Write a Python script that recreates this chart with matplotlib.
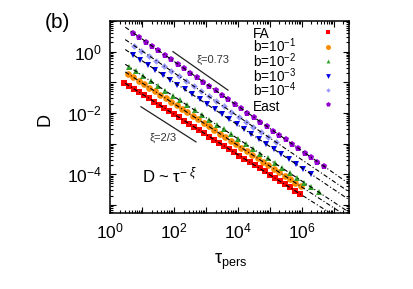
import matplotlib
matplotlib.use("Agg")
import matplotlib.pyplot as plt
import numpy as np
from matplotlib.ticker import LogLocator, FuncFormatter, NullFormatter

plt.rcParams['font.family'] = ['Liberation Sans', 'DejaVu Sans']
plt.rcParams['mathtext.fontset'] = 'custom'
plt.rcParams['mathtext.rm'] = 'Liberation Sans'
plt.rcParams['mathtext.it'] = 'Liberation Sans:italic'
plt.rcParams['mathtext.bf'] = 'Liberation Sans:bold'

# ---------------- data ----------------
labels = ['FA', r'b=10$^{-1}$', r'b=10$^{-2}$', r'b=10$^{-3}$', r'b=10$^{-4}$', 'East']

tau_fa = [2.75, 3.95, 5.68, 8.15, 11.7, 16.8, 24.1, 34.6, 49.7, 71.3, 102, 147, 211, 303, 435,
          624, 895, 1285, 1845, 2650, 3800, 5460, 7830, 11200, 16100, 23200, 33300, 47800,
          68500, 98400, 141000, 203000, 291000, 418000, 600000, 861000]
D_fa = [0.0977, 0.0769, 0.0606, 0.0478, 0.0377, 0.0297, 0.0234, 0.0184, 0.0145, 0.0114, 0.0090,
        0.00708, 0.00558, 0.00440, 0.00346, 0.00273, 0.00215, 0.00169, 0.00133, 0.00105,
        0.000828, 0.000652, 0.000514, 0.000405, 0.000319, 0.000251, 0.000198, 0.000156,
        0.000123, 9.67e-5, 7.62e-5, 6.00e-5, 4.73e-5, 3.72e-5, 2.93e-5, 2.31e-5]

tau_b1 = [3.63, 5.36, 7.91, 11.7, 17.2, 25.4, 37.5, 55.3, 81.7, 121, 178, 262, 387, 571, 843,
          1245, 1837, 2710, 4000, 5900, 8710, 12900, 19000, 28000, 41300, 61000, 89900,
          133000, 196000, 289000, 427000, 630000, 929000]
D_b1 = [0.191, 0.146, 0.112, 0.0861, 0.0661, 0.0507, 0.0389, 0.0299, 0.0229, 0.0176, 0.0135,
        0.0104, 0.00796, 0.00611, 0.00469, 0.00360, 0.00276, 0.00212, 0.00163, 0.00125,
        0.000959, 0.000736, 0.000565, 0.000434, 0.000333, 0.000255, 0.000196, 0.000150,
        0.000115, 8.85e-5, 6.79e-5, 5.21e-5, 4.01e-5]

tau_b2 = [3.89, 6.58, 11.1, 18.9, 31.9, 54.0, 91.4, 155, 262, 443, 750, 1270, 2150, 3640, 6150,
          10400, 17600, 29800, 50500, 85400, 145000, 245000, 414000, 701000, 1190000,
          2010000, 3400000]
D_b2 = [0.324, 0.225, 0.157, 0.109, 0.0757, 0.0527, 0.0367, 0.0255, 0.0177, 0.0123, 0.00857,
        0.00596, 0.00415, 0.00289, 0.00201, 0.00140, 0.000971, 0.000676, 0.000470, 0.000327,
        0.000227, 0.000158, 0.000110, 7.65e-5, 5.32e-5, 3.70e-5, 2.57e-5]

tau_b3 = [5.25, 8.95, 15.3, 26.0, 44.4, 75.6, 129, 220, 375, 639, 1090, 1860, 3170, 5400, 9200,
          15700, 26700, 45600, 77700, 133000, 226000, 385000, 657000, 1120000, 1910000]
D_b3 = [0.794, 0.547, 0.377, 0.259, 0.178, 0.123, 0.0845, 0.0582, 0.0400, 0.0275, 0.0190,
        0.0131, 0.00899, 0.00619, 0.00426, 0.00293, 0.00202, 0.00139, 0.000957, 0.000658,
        0.000453, 0.000312, 0.000215, 0.000148, 0.000102]

tau_b4 = [5.62, 9.63, 16.5, 28.3, 48.4, 82.9, 142, 243, 416, 713, 1220, 2090, 3580, 6140,
          10500, 18000, 30800, 52800, 90500, 155000]
D_b4 = [1.585, 1.081, 0.738, 0.504, 0.344, 0.234, 0.160, 0.109, 0.0746, 0.0509, 0.0347,
        0.0237, 0.0162, 0.0110, 0.00753, 0.00514, 0.00351, 0.00239, 0.00163, 0.00111]

tau_east = [5.25, 8.30, 13.1, 20.7, 32.8, 51.9, 82.0, 130, 205, 324, 513, 811, 1280, 2030,
            3210, 5070, 8020, 12700, 20000, 31700, 50100, 79300, 125000, 198000, 313000,
            495000, 783000, 1240000, 1960000, 3100000, 4900000]
D_east = [4.17, 2.985, 2.135, 1.528, 1.093, 0.783, 0.560, 0.401, 0.287, 0.205, 0.147, 0.105,
          0.0753, 0.0539, 0.0386, 0.0276, 0.0198, 0.0141, 0.0101, 0.00724, 0.00518, 0.00371,
          0.00265, 0.00190, 0.00136, 0.000973, 0.000697, 0.000499, 0.000357, 0.000255, 0.000183]

# power-law fits D = A * tau^(-xi)
fit_A = [0.19, 0.458, 0.826, 2.53, 5.40, 14.0]
fit_xi = [0.66, 0.68, 0.69, 0.70, 0.71, 0.73]
fit_range = [3.0, 3e7]

# guide lines
guide_073_tau = [93, 4900]
guide_073_D0 = 1.0
guide_23_tau = [9.3, 490]
guide_23_D0 = 0.0159

# ---------------- style ----------------
colors = ['#ff0000', '#ff8c00', '#33a02c', '#0000e6', '#9999ff', '#9400d3']
markers = ['s', 'o', '^', 'v', 'D', 'p']
msizes = [4.6, 4.8, 4.0, 4.6, 3.4, 4.8]

taus = [tau_fa, tau_b1, tau_b2, tau_b3, tau_b4, tau_east]
Ds = [D_fa, D_b1, D_b2, D_b3, D_b4, D_east]

fig = plt.figure(figsize=(4.14, 2.89), dpi=100)
ax = fig.add_axes([110/414, 1-213/289, 239/414, 192/289])

for t, d, c, m, ms in zip(taus, Ds, colors, markers, msizes):
    ax.plot(t, d, linestyle='none', marker=m, color=c, markersize=ms, markeredgewidth=0)

tt = np.logspace(np.log10(fit_range[0]), np.log10(fit_range[1]), 200)
for A, xi in zip(fit_A, fit_xi):
    ax.plot(tt, A * tt ** (-xi), color='black', lw=0.8, dashes=(4, 2, 1, 2))

g1 = np.array(guide_073_tau, dtype=float)
ax.plot(g1, guide_073_D0 * (g1 / g1[0]) ** (-0.73), color='#222222', lw=0.9)
g2 = np.array(guide_23_tau, dtype=float)
ax.plot(g2, guide_23_D0 * (g2 / g2[0]) ** (-2/3), color='#222222', lw=0.9)

ax.text(525, 0.55, 'ξ=0.73', fontsize=8, color='#333333', va='center', ha='left')
ax.text(17.8, 1.55e-3, 'ξ=2/3', fontsize=8, color='#333333', va='center', ha='left')
ax.text(10, 5.2e-5, r'D ~ τ$^{-\ \xi}$', fontsize=12, va='baseline', ha='left')

ax.set_xscale('log')
ax.set_yscale('log')
ax.set_xlim(1, 3e7)
ax.set_ylim(5.4e-6, 10)

fmt = FuncFormatter(lambda v, p: (r'$10^{%d}$' % round(np.log10(v))) if round(np.log10(v)) % 2 == 0 else '')
for axis in (ax.xaxis, ax.yaxis):
    axis.set_major_locator(LogLocator(base=10, numticks=30))
    axis.set_minor_locator(LogLocator(base=10, subs=np.arange(2, 10), numticks=30))
    axis.set_major_formatter(fmt)
    axis.set_minor_formatter(NullFormatter())

ax.tick_params(which='both', direction='in', top=True, right=True, width=0.8)
ax.tick_params(which='major', length=4, labelsize=12.5, pad=6)
ax.tick_params(which='minor', length=2)
for s in ax.spines.values():
    s.set_linewidth(1.1)

# legend (gnuplot style: text left, marker right)
text_y = [0.913, 0.836, 0.760, 0.684, 0.608, 0.531]
mark_y = [0.943, 0.865, 0.792, 0.714, 0.641, 0.568]
for lab, ty, my, c, m, ms in zip(labels, text_y, mark_y, colors, markers, msizes):
    ax.text(0.598, ty, lab, transform=ax.transAxes, fontsize=9.8, va='baseline', ha='left')
    ax.plot([0.912], [my], transform=ax.transAxes, marker=m, color=c, markersize=ms - 1.2,
            markeredgewidth=0, linestyle='none', clip_on=False)

fig.text(45/414, 1-22/289, '(b)', fontsize=15, va='center', ha='left')
fig.text(45/414, 1-119/289, 'D', fontsize=13, rotation=90, va='center', ha='center')
fig.text(231/414, 1-262/289, r'τ$_{\rm pers}$', fontsize=13, va='center', ha='center')

fig.savefig('out.png', dpi=100)
